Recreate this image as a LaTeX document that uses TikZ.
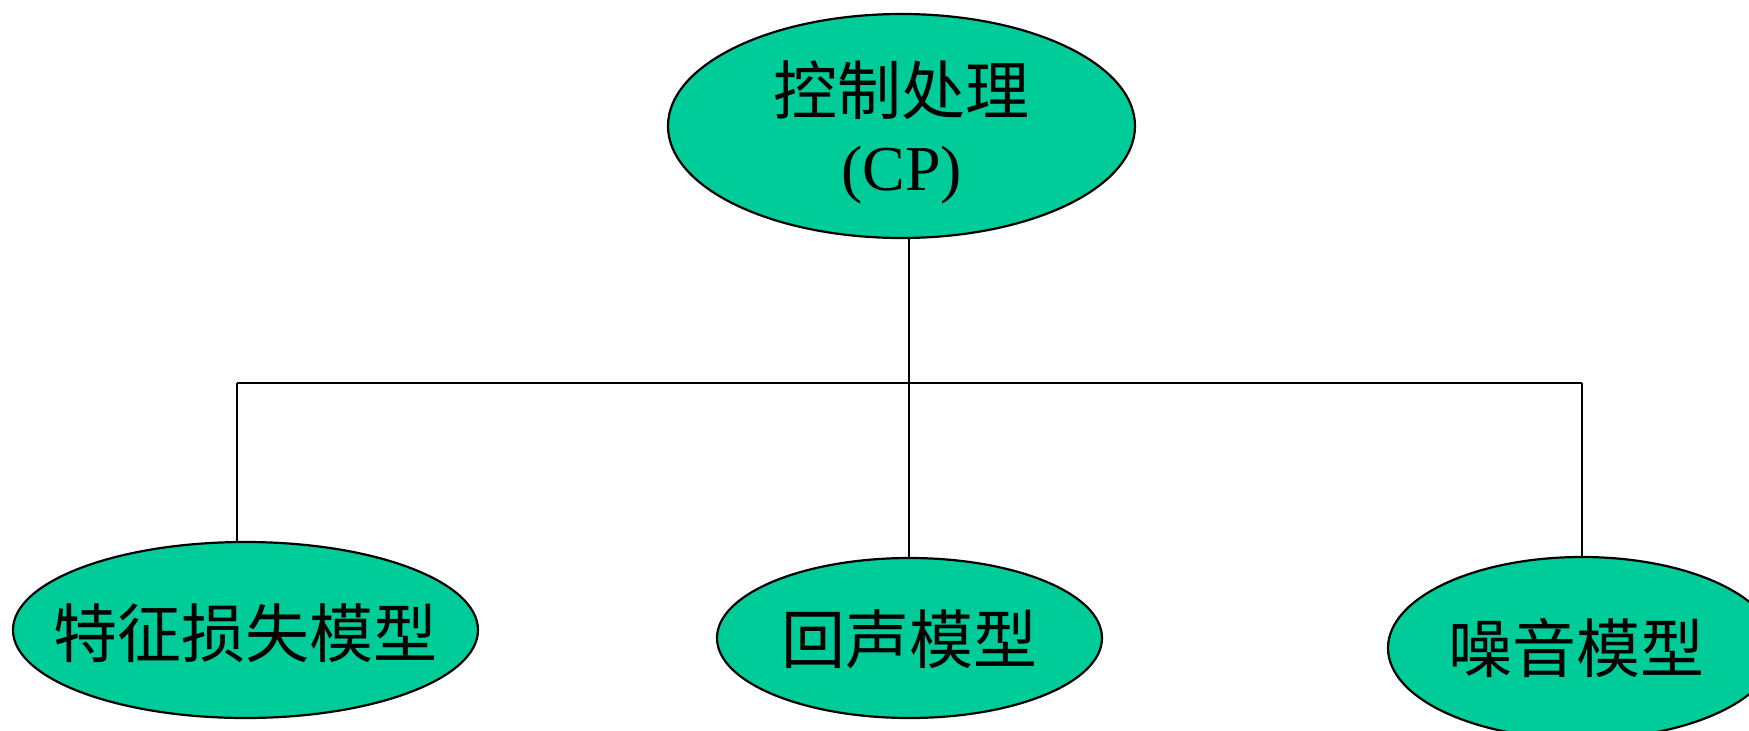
\documentclass[tikz,border=0pt]{standalone}
\usepackage{fontspec}
\setmainfont{Liberation Serif}
\newfontfamily\cjk{Noto Sans CJK SC}
\usetikzlibrary{shapes.geometric}
\definecolor{nodegreen}{HTML}{00CC99}
\tikzset{
  oval/.style={ellipse, draw=black, line width=2.2pt, fill=nodegreen, inner sep=0pt,
    font=\fontsize{64}{80}\selectfont, align=center},
  link/.style={draw=black, line width=2.2pt}
}
\newcommand{\dropby}[2]{\raisebox{-#1}[\height][\depth]{#2}}
\begin{document}
\begin{tikzpicture}[x=1pt,y=-1pt]
\useasboundingbox (0,0) rectangle (1749,731);
\node[oval, minimum width=467pt, minimum height=224pt] (cp) at (901.5,126)
  {\dropby{10pt}{\begin{tabular}{@{}c@{}}{\cjk 控制处理}\\[-4pt](CP)\end{tabular}}};
\node[oval, minimum width=465pt, minimum height=176pt] (feat) at (245.5,630) {\makebox[0pt]{\dropby{3pt}{\cjk 特征损失模型}}};
\node[oval, minimum width=385pt, minimum height=160pt] (echo) at (909.5,638) {\makebox[0pt]{\dropby{1pt}{\cjk 回声模型}}};
\node[oval, minimum width=388pt, minimum height=182pt] (noise) at (1582,648) {\makebox[0pt]{\cjk 噪音模型\hspace{12pt}}};
\coordinate (j) at (909,383);
\coordinate (jl) at (237,383);
\coordinate (jr) at (1582,383);
\draw[link] (j |- cp.south) -- (j);
\draw[link] (jl) -- (jr);
\draw[link] (jl) -- (jl |- feat.north);
\draw[link] (j) -- (j |- echo.north);
\draw[link] (jr) -- (noise.north);
\end{tikzpicture}
\end{document}
